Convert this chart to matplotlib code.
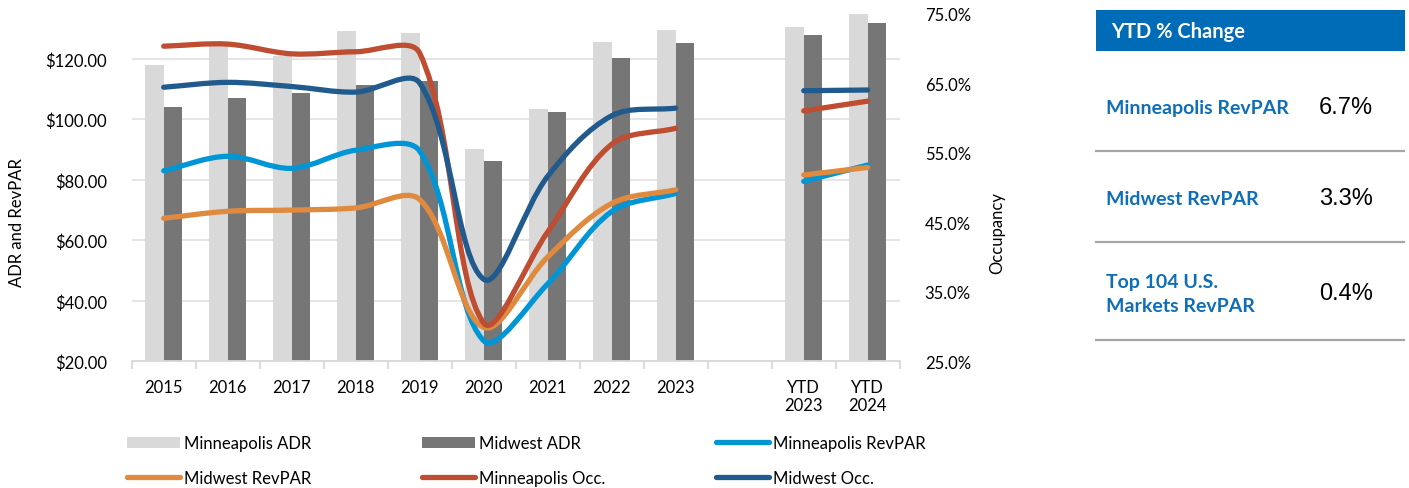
import numpy as np
import matplotlib
matplotlib.use("Agg")
import matplotlib.pyplot as plt
from matplotlib.path import Path
from matplotlib.patches import PathPatch, Rectangle, Patch
from matplotlib.lines import Line2D
from matplotlib.ticker import FuncFormatter, FixedLocator

# ---- data -------------------------------------------------------------
categories = ["2015", "2016", "2017", "2018", "2019", "2020", "2021", "2022",
              "2023", "", "YTD\n2023", "YTD\n2024"]
mpls_adr = [118.0, 125.0, 121.0, 129.1, 128.5, 90.2, 103.4, 125.5, 129.6, None, 130.6, 134.9]
midwest_adr = [104.2, 107.0, 108.6, 111.3, 112.6, 86.1, 102.5, 120.2, 125.2, None, 127.8, 131.8]
mpls_revpar = [83.0, 87.8, 83.8, 89.8, 89.5, 26.8, 45.6, 69.5, 75.5, None, 79.5, 84.9]
midwest_revpar = [67.3, 69.6, 70.0, 70.7, 73.5, 31.2, 54.5, 72.2, 76.7, None, 81.6, 84.1]
mpls_occ = [70.3, 70.6, 69.2, 69.5, 69.3, 30.5, 43.6, 56.2, 58.5, None, 61.0, 62.4]
midwest_occ = [64.4, 65.1, 64.5, 63.7, 65.0, 36.8, 51.6, 60.3, 61.4, None, 63.9, 64.0]

ytd_labels = ["Minneapolis RevPAR", "Midwest RevPAR", "Top 104 U.S.\nMarkets RevPAR"]
ytd_changes = ["6.7%", "3.3%", "0.4%"]

# ---- style ------------------------------------------------------------
W, H = 1409, 489
FONT = "Lato"
plt.rcParams["font.family"] = [FONT, "DejaVu Sans"]
C_LADR = "#D9D9D9"
C_DADR = "#767676"
C_MREV = "#0096D6"
C_WREV = "#E08A3F"
C_MOCC = "#BE4D31"
C_WOCC = "#215B8D"
C_GRID = "#E3E3E3"
C_BLUE = "#006BB6"
LW = 3.8

fig = plt.figure(figsize=(W / 100, H / 100), dpi=100)


def fx(x):
    return x / W


def fy(y):
    return 1 - y / H


ax = fig.add_axes([fx(131.7), fy(362.3), fx(899.7) - fx(131.7), fy(14.5) - fy(362.3)])
ax2 = ax.twinx()

x = np.arange(len(categories))
ax.set_xlim(-0.5, len(categories) - 0.5)
ax.set_ylim(20, 135)
ax2.set_ylim(25, 75)

# bars
bw = 0.292
valid = [i for i, v in enumerate(mpls_adr) if v is not None]
ax.bar([x[i] - bw / 2 for i in valid], [mpls_adr[i] - 20 for i in valid], bw,
       bottom=20, color=C_LADR, zorder=2)
ax.bar([x[i] + bw / 2 for i in valid], [midwest_adr[i] - 20 for i in valid], bw,
       bottom=20, color=C_DADR, zorder=2)

# axes styling
ax.yaxis.set_major_locator(FixedLocator([20, 40, 60, 80, 100, 120]))
ax.yaxis.set_major_formatter(FuncFormatter(lambda v, p: f"${v:,.2f}"))
ax2.yaxis.set_major_locator(FixedLocator([25, 35, 45, 55, 65, 75]))
ax2.yaxis.set_major_formatter(FuncFormatter(lambda v, p: f"{v:.1f}%"))
ax.grid(axis="y", color=C_GRID, lw=1.3, zorder=0)
ax.set_axisbelow(True)
for a in (ax, ax2):
    for s in ("left", "right", "top"):
        a.spines[s].set_visible(False)
    a.spines["bottom"].set_color("#D9D9D9")
    a.spines["bottom"].set_linewidth(1.3)
ax2.spines["bottom"].set_visible(False)
ax.tick_params(axis="y", length=0, pad=18, labelsize=12, labelcolor="#000000")
ax2.tick_params(axis="y", length=0, pad=18, labelsize=12, labelcolor="#000000")
ax.set_xticks(x)
ax.set_xticklabels(categories, fontsize=12, linespacing=1.15)
ax.tick_params(axis="x", which="major", length=0, pad=13)
ax.set_xticks(np.arange(-0.5, len(categories)), minor=True)
ax.tick_params(axis="x", which="minor", length=6, width=1.3, color="#D9D9D9")


def excel_smooth(a, xs, ys):
    """Bezier curve through the points, tangents scaled by chord lengths in screen space."""
    pts = a.transData.transform(np.column_stack([xs, ys]).astype(float))
    n = len(pts)
    verts = [pts[0]]
    codes = [Path.MOVETO]
    for i in range(n - 1):
        p1, p2 = pts[i], pts[i + 1]
        p0 = pts[i - 1] if i > 0 else p1
        p3 = pts[i + 2] if i + 2 < n else p2
        d01 = np.hypot(*(p1 - p0))
        d12 = np.hypot(*(p2 - p1))
        d23 = np.hypot(*(p3 - p2))
        c1 = p1 + (p2 - p0) * (d12 / (d01 + d12)) / 3
        c2 = p2 - (p3 - p1) * (d12 / (d12 + d23)) / 3
        verts += [c1, c2, p2]
        codes += [Path.CURVE4] * 3
    verts = a.transData.inverted().transform(np.array(verts))
    return Path(verts, codes)


def draw_series(a, values, color, z):
    segs, cur = [], []
    for i, v in enumerate(values):
        if v is None:
            if cur:
                segs.append(cur)
            cur = []
        else:
            cur.append((x[i], v))
    if cur:
        segs.append(cur)
    for seg in segs:
        xs, ys = zip(*seg)
        patch = PathPatch(excel_smooth(a, xs, ys), fill=False, edgecolor=color,
                          lw=LW, capstyle="round", joinstyle="round", zorder=z)
        a.add_patch(patch)


draw_series(ax, mpls_revpar, C_MREV, 3)
draw_series(ax, midwest_revpar, C_WREV, 4)
draw_series(ax2, mpls_occ, C_MOCC, 5)
draw_series(ax2, midwest_occ, C_WOCC, 6)

# axis titles
fig.text(fx(17), fy(223), "ADR and RevPAR", rotation=90, ha="center", va="center",
         fontsize=12)
fig.text(fx(997), fy(233), "Occupancy", rotation=90, ha="center", va="center",
         fontsize=12)

# legend
handles = [
    Patch(facecolor=C_LADR, edgecolor="none"),
    Line2D([], [], color=C_WREV, lw=LW, solid_capstyle="round"),
    Patch(facecolor=C_DADR, edgecolor="none"),
    Line2D([], [], color=C_MOCC, lw=LW, solid_capstyle="round"),
    Line2D([], [], color=C_MREV, lw=LW, solid_capstyle="round"),
    Line2D([], [], color=C_WOCC, lw=LW, solid_capstyle="round"),
]
labels = ["Minneapolis ADR", "Midwest RevPAR", "Midwest ADR", "Minneapolis Occ.",
          "Minneapolis RevPAR", "Midwest Occ."]
fig.legend(handles, labels, ncol=3, loc="upper left",
           bbox_to_anchor=(fx(127), fy(436)), bbox_transform=fig.transFigure,
           frameon=False, fontsize=12, handlelength=3.2, handleheight=0.65,
           handletextpad=0.25, columnspacing=6.6, labelspacing=1.15,
           borderpad=0, borderaxespad=0)

# YTD % change panel
fig.patches.append(Rectangle((fx(1096), fy(51.7)), fx(1405) - fx(1096), fy(11) - fy(51.7),
                             transform=fig.transFigure, facecolor=C_BLUE, edgecolor="none"))
fig.text(fx(1111), fy(32), "YTD % Change", color="white", fontsize=14.5,
         fontweight="bold", ha="left", va="center")
row_y = [108.3, 199.3, 294.3]
for lab, val, yy in zip(ytd_labels, ytd_changes, row_y):
    fig.text(fx(1106), fy(yy), lab, color="#0E6EB8", fontsize=14, fontweight="bold",
             ha="left", va="center", linespacing=1.5)
    fig.text(fx(1346), fy(yy), val, color="black", fontsize=17,
             family=["Liberation Sans"], ha="center", va="center")
for yy in (151.7, 242.7, 340.7):
    fig.add_artist(Line2D([fx(1096), fx(1404)], [fy(yy), fy(yy)], color="#A6A6A6",
                          lw=1.6, transform=fig.transFigure))

fig.savefig("out.png", dpi=100)
